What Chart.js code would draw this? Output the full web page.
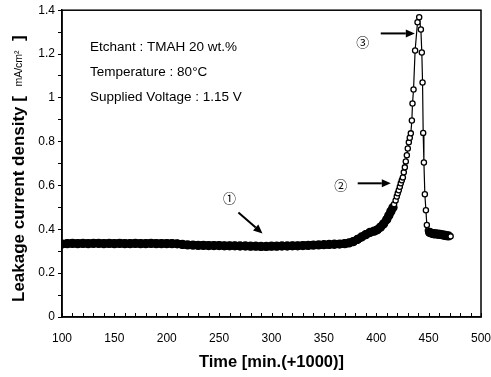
<!DOCTYPE html>
<html><head><meta charset="utf-8">
<script src="https://cdn.jsdelivr.net/npm/chart.js@4"></script>
<style>html,body{margin:0;padding:0;background:#fff;} canvas{display:block;}</style>
</head><body>
<canvas id="c" width="491" height="377"></canvas>
<script>
// ---- data ----
const timeMin = [100,105,110,115,120,125,130,135,140,145,150,155,160,165,170,175,180,185,190,195,200,205,210,215,220,225,230,235,240,245,250,255,260,265,270,275,280,285,290,295,300,305,310,315,320,325,330,335,340,345,350,355,360,365,370,
  374,378,382,386,390,394,398,401,404,407,410,412,414,416,
  417,418.5,419.6,420.5,421.5,422.5,423.4,424.4,425.4,426.3,427.3,428.2,429.2,430.1,431.1,432,433,434,434.6,435.6,437.1,439.4,441,442.6,443.5,444.2,444.8,445.5,446.4,447.4,448.3,449.3,
  451,453,455,457,459,461,463,465,467,469,471];
const leakage = [0.333,0.335,0.336,0.335,0.336,0.335,0.336,0.336,0.335,0.336,0.335,0.336,0.335,0.335,0.336,0.335,0.335,0.336,0.335,0.335,0.335,0.335,0.334,0.331,0.329,0.328,0.327,0.327,0.326,0.326,0.326,0.325,0.325,0.325,0.324,0.324,0.323,0.323,0.322,0.322,0.323,0.323,0.324,0.324,0.325,0.325,0.326,0.327,0.328,0.329,0.330,0.331,0.332,0.333,0.335,
  0.338,0.344,0.354,0.365,0.376,0.386,0.392,0.398,0.410,0.425,0.445,0.463,0.482,0.500,
  0.515,0.532,0.550,0.565,0.578,0.594,0.610,0.624,0.637,0.660,0.683,0.710,0.738,0.769,0.797,0.818,0.838,0.897,0.974,1.038,1.216,1.345,1.368,1.312,1.207,1.070,0.840,0.705,0.560,0.487,0.420,0.395,
  0.386,0.382,0.380,0.379,0.378,0.377,0.375,0.373,0.371,0.370,0.368];
const xTickLabels = [100,150,200,250,300,350,400,450,500];
const yTickLabels = [0,0.2,0.4,0.6,0.8,1,1.2,1.4];
const infoLines = ["Etchant : TMAH 20 wt.%", "Temperature : 80°C", "Supplied Voltage : 1.15 V"];
const xTitle = "Time [min.(+1000)]";
const yTitleParts = ["Leakage current density [  ", "mA/cm²", "  ]"];
const markLabels = ["①", "②", "③"];

// ---- styling helpers ----
const FONT = "'Liberation Sans', Arial, sans-serif";
function isDense(t){ return t < 416.5 || (t > 450 && t < 470); }

const points = timeMin.map((t, i) => ({x: t, y: leakage[i]}));

const decor = {
  id: 'decor',
  beforeDraw(chart){
    const c = chart.ctx; c.save(); c.fillStyle = '#fff'; c.fillRect(0,0,chart.width,chart.height); c.restore();
  },
  afterDraw(chart){
    const c = chart.ctx, a = chart.chartArea, xs = chart.scales.x, ys = chart.scales.y;
    c.save();
    c.strokeStyle = '#000'; c.fillStyle = '#000';
    // frame
    c.lineWidth = 1.5;
    c.strokeRect(a.left, a.top, a.right - a.left, a.bottom - a.top);
    // inner x ticks
    c.lineWidth = 1;
    xs.ticks.forEach(tk => {
      const px = Math.round(xs.getPixelForValue(tk.value)) + 0.5;
      c.beginPath(); c.moveTo(px, a.bottom); c.lineTo(px, a.bottom - 4); c.stroke();
    });
    // y title (mixed font sizes)
    c.save();
    c.translate(19, 302); c.rotate(-Math.PI/2);
    c.textBaseline = 'middle'; c.textAlign = 'left';
    let off = 0;
    const fonts = ["bold 17px " + FONT, "10.5px " + FONT, "bold 17px " + FONT];
    yTitleParts.forEach((s, i) => { c.font = fonts[i]; c.fillText(s, off, 0); off += c.measureText(s).width; });
    c.restore();
    // info text
    c.font = "13.5px " + FONT; c.textBaseline = 'middle'; c.textAlign = 'left';
    const infoY = [1.23, 1.116, 1.002];
    infoLines.forEach((s, i) => c.fillText(s, xs.getPixelForValue(126.8), ys.getPixelForValue(infoY[i])));
    // circled marks + arrows
    c.font = "13px 'Noto Sans CJK JP', 'DejaVu Sans', sans-serif"; c.textAlign = 'center';
    const marks = [
      {t: 259.8, v: 0.541, a0: [268.4, 0.477], a1: [291.4, 0.381]},
      {t: 366, v: 0.60, a0: [382.3, 0.61], a1: [413.9, 0.61]},
      {t: 387, v: 1.253, a0: [404.3, 1.294], a1: [436.8, 1.294]}
    ];
    marks.forEach((m, i) => {
      c.fillText(markLabels[i], xs.getPixelForValue(m.t), ys.getPixelForValue(m.v));
      const x0 = xs.getPixelForValue(m.a0[0]), y0 = ys.getPixelForValue(m.a0[1]);
      const x1 = xs.getPixelForValue(m.a1[0]), y1 = ys.getPixelForValue(m.a1[1]);
      const ang = Math.atan2(y1 - y0, x1 - x0), hl = 9, hw = 4;
      c.lineWidth = 2;
      c.beginPath(); c.moveTo(x0, y0); c.lineTo(x1 - hl*Math.cos(ang), y1 - hl*Math.sin(ang)); c.stroke();
      c.beginPath();
      c.moveTo(x1, y1);
      c.lineTo(x1 - hl*Math.cos(ang) + hw*Math.sin(ang), y1 - hl*Math.sin(ang) - hw*Math.cos(ang));
      c.lineTo(x1 - hl*Math.cos(ang) - hw*Math.sin(ang), y1 - hl*Math.sin(ang) + hw*Math.cos(ang));
      c.closePath(); c.fill();
    });
    c.restore();
  }
};

new Chart(document.getElementById('c'), {
  type: 'line',
  data: { datasets: [{
    data: points,
    borderColor: '#000',
    borderWidth: 1.2,
    borderCapStyle: 'round',
    borderJoinStyle: 'round',
    tension: 0,
    segment: { borderWidth: ctx => (isDense(ctx.p0.parsed.x) && isDense(ctx.p1.parsed.x)) ? 8 : 1.2 },
    pointRadius: ctx => isDense(ctx.raw.x) ? 4 : 2.6,
    pointBackgroundColor: ctx => isDense(ctx.raw.x) ? '#000' : '#fff',
    pointBorderColor: '#000',
    pointBorderWidth: 1.3
  }]},
  options: {
    responsive: false,
    animation: false,
    layout: { padding: { left: 0, right: 0, top: 9, bottom: 0 } },
    plugins: { legend: { display: false }, tooltip: { enabled: false } },
    scales: {
      x: {
        type: 'linear', min: 100, max: 500,
        afterFit: s => { s.height = 60; s.paddingRight = 10; s.paddingLeft = 0; },
        ticks: { stepSize: 10, autoSkip: false, maxRotation: 0, padding: 14, color: '#000',
          font: { family: FONT, size: 12 },
          callback: v => xTickLabels.includes(v) ? String(v) : '' },
        grid: { drawOnChartArea: false, drawTicks: false },
        border: { display: true, color: '#000', width: 1.5 },
        title: { display: true, text: xTitle, color: '#000', font: { family: FONT, size: 16.5, weight: 'bold' }, padding: { top: 5, bottom: 5 } }
      },
      y: {
        min: 0, max: 1.4,
        afterFit: s => { s.width = 62; },
        ticks: { stepSize: 0.1, autoSkip: false, padding: 3, color: '#000',
          font: { family: FONT, size: 12 },
          callback: v => { const r = Math.round(v * 10) / 10; return yTickLabels.some(l => Math.abs(l - r) < 1e-6) ? String(r) : ''; } },
        grid: { drawOnChartArea: false, drawTicks: true, tickLength: 4, color: '#000' },
        border: { display: true, color: '#000', width: 1.5 }
      }
    }
  },
  plugins: [decor]
});
</script>
</body></html>
